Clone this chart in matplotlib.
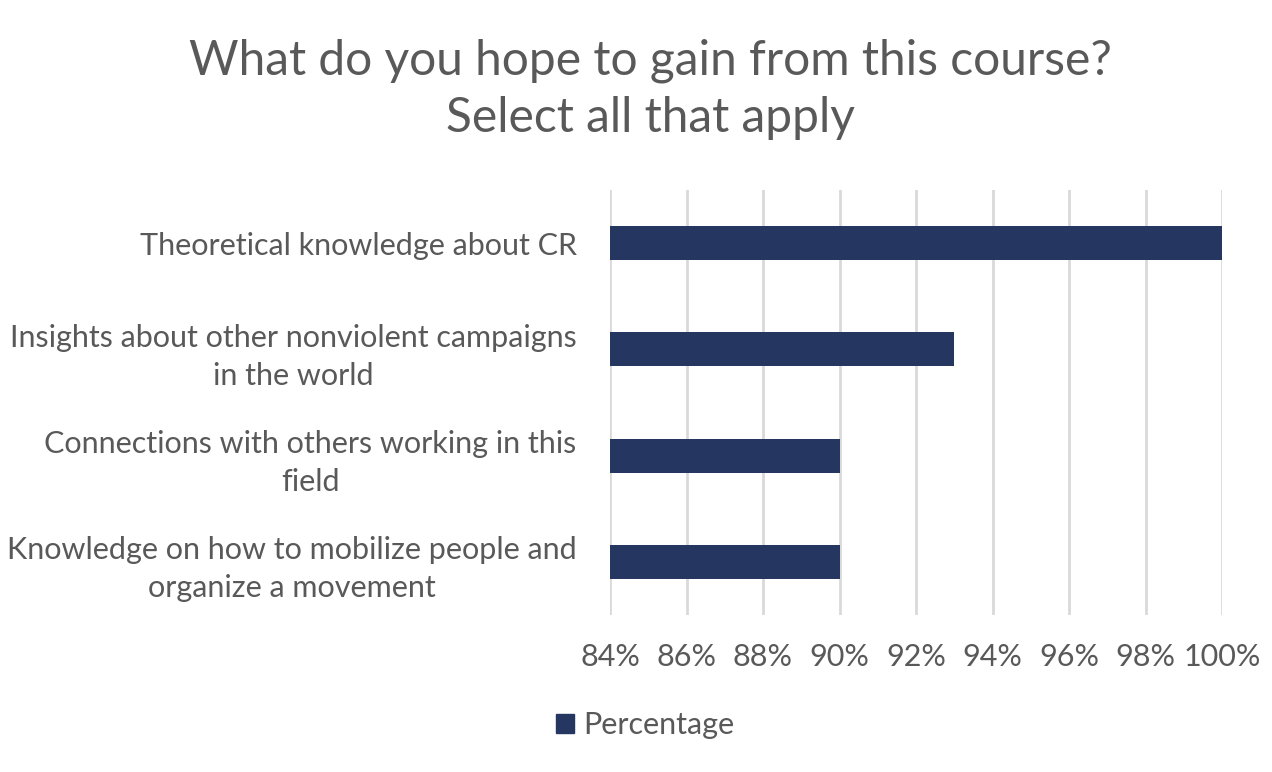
import matplotlib
matplotlib.use('Agg')
import matplotlib.pyplot as plt
import matplotlib.patches as mpatches

# ── Data ─────────────────────────────────────────────────────────────────────
categories = [
    'Theoretical knowledge about CR',
    'Insights about other nonviolent campaigns\nin the world',
    'Connections with others working in this\nfield',
    'Knowledge on how to mobilize people and\norganize a movement',
]
values = [100, 93, 90, 90]
xticks = [84, 86, 88, 90, 92, 94, 96, 98, 100]

BAR = '#253761'
TXT = '#595959'
GRID = '#d9d9d9'

plt.rcParams['font.family'] = ['Lato', 'DejaVu Sans']

fig = plt.figure(figsize=(12.72, 7.72), dpi=100)
ax = fig.add_axes([610 / 1272, 1 - 615 / 772, 612 / 1272, 425 / 772])

y = list(range(len(categories)))
ax.barh(y, [v - 84 for v in values], left=84, height=0.32, color=BAR, zorder=3)
ax.set_ylim(len(categories) - 0.5, -0.5)
ax.set_xlim(84, 100)
ax.set_xticks(xticks)
ax.set_xticklabels([f'{t}%' for t in xticks], fontsize=22, color=TXT)
ax.set_yticks(y)
ax.set_yticklabels(categories, fontsize=22, color=TXT, ha='right',
                   multialignment='center', linespacing=1.42)
ax.tick_params(axis='both', length=0)
ax.tick_params(axis='y', pad=24)
ax.tick_params(axis='x', pad=20)
ax.grid(axis='x', color=GRID, lw=2, zorder=0)
for s in ax.spines.values():
    s.set_visible(False)

fig.text(650 / 1272, 1 - 89 / 772, 'What do you hope to gain from this course?\nSelect all that apply',
         ha='center', va='center', fontsize=34.5, color=TXT, linespacing=1.35)

handle = mpatches.Patch(color=BAR, label='Percentage')
fig.legend(handles=[handle], loc='center', bbox_to_anchor=(645 / 1272, 1 - 725 / 772),
           frameon=False, fontsize=22, labelcolor=TXT, handlelength=0.6,
           handleheight=0.6, handletextpad=0.3)

fig.savefig('out.png', dpi=100, facecolor='white')
